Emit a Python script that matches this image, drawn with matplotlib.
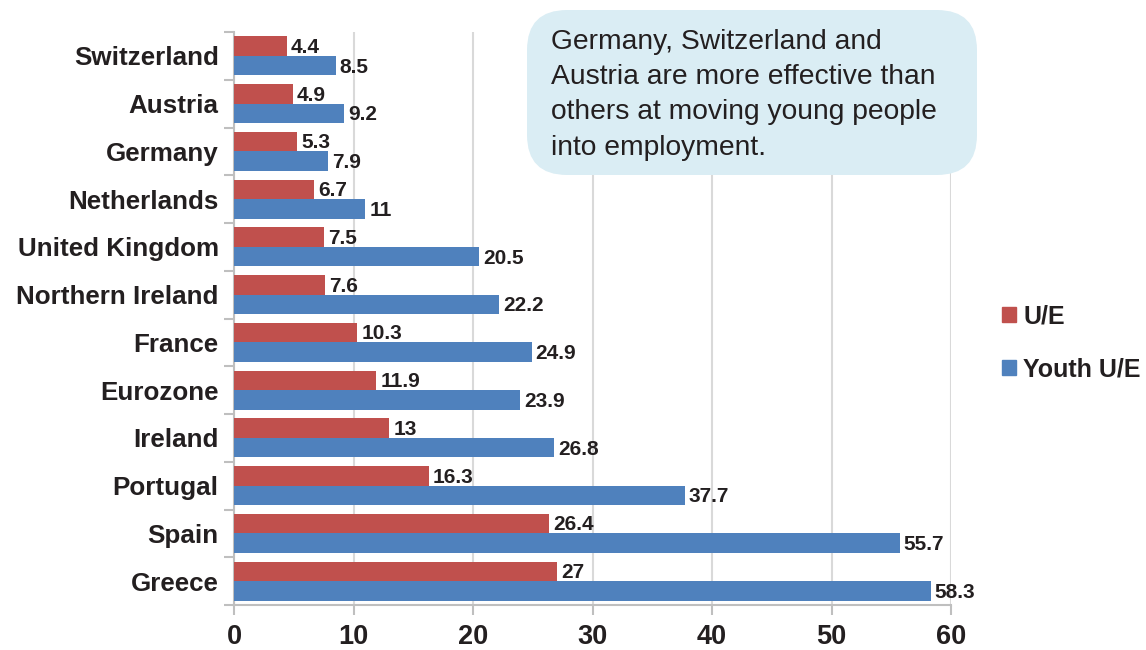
import matplotlib
matplotlib.use("Agg")
import matplotlib.pyplot as plt
from matplotlib.patches import FancyBboxPatch, Patch
import numpy as np

countries = ["Switzerland", "Austria", "Germany", "Netherlands", "United Kingdom",
             "Northern Ireland", "France", "Eurozone", "Ireland", "Portugal", "Spain", "Greece"]
ue = [4.4, 4.9, 5.3, 6.7, 7.5, 7.6, 10.3, 11.9, 13, 16.3, 26.4, 27]
youth_ue = [8.5, 9.2, 7.9, 11, 20.5, 22.2, 24.9, 23.9, 26.8, 37.7, 55.7, 58.3]
series_names = ["U/E", "Youth U/E"]
xticks = [0, 10, 20, 30, 40, 50, 60]
note = "Germany, Switzerland and\nAustria are more effective than\nothers at moving young people\ninto employment."

RED = "#C0504D"
BLUE = "#4F81BD"
TXT = "#231f20"
GRID = "#d9d9d9"
FONT = "Liberation Sans"

fig = plt.figure(figsize=(11.46, 6.5), dpi=100)
ax = fig.add_axes([234/1146, 45/650, (951-234)/1146, (605-32)/650])

y = np.arange(len(countries))
h = 0.41
ax.barh(y - h/2, ue, height=h, color=RED, zorder=3, label=series_names[0])
ax.barh(y + h/2, youth_ue, height=h, color=BLUE, zorder=3, label=series_names[1])

def fmt(v):
    return ("%g" % v)

for yi, v in zip(y, ue):
    ax.annotate(fmt(v), (v, yi - h/2), xytext=(3, -1), textcoords="offset points",
                va="center", ha="left", fontsize=15, fontweight="bold", color=TXT, family=FONT)
for yi, v in zip(y, youth_ue):
    ax.annotate(fmt(v), (v, yi + h/2), xytext=(3, -1), textcoords="offset points",
                va="center", ha="left", fontsize=15, fontweight="bold", color=TXT, family=FONT)

ax.set_xlim(0, 60)
ax.set_ylim(len(countries) - 0.5, -0.5)
ax.set_xticks(xticks)
ax.set_xticklabels([str(t) for t in xticks], fontsize=19.5, fontweight="bold", color=TXT, family=FONT)
ax.set_yticks(y)
ax.set_yticklabels(countries, fontsize=18.7, fontweight="bold", color=TXT, family=FONT)
ax.set_yticks(np.arange(len(countries) + 1) - 0.5, minor=True)
ax.tick_params(axis="y", which="major", length=0, pad=11)
ax.tick_params(axis="y", which="minor", length=7, color="#bfbfbf", width=1.5)
ax.tick_params(axis="x", which="major", length=7, color="#bfbfbf", width=1.5, pad=7)

ax.grid(axis="x", color=GRID, linewidth=1.5, zorder=0)
ax.set_axisbelow(True)
for s in ["top", "right"]:
    ax.spines[s].set_visible(False)
for s in ["left", "bottom"]:
    ax.spines[s].set_color("#bfbfbf")
    ax.spines[s].set_linewidth(1.5)

handles = [Patch(color=RED), Patch(color=BLUE)]
leg = fig.legend(handles, series_names, loc="center left", bbox_to_anchor=(1002/1146, (650-343)/650),
                 frameon=False, handlelength=0.55, handleheight=0.55, handletextpad=0.3,
                 labelspacing=1.15, borderpad=0, borderaxespad=0,
                 prop={"family": FONT, "weight": "bold", "size": 18})
for t in leg.get_texts():
    t.set_color(TXT)

box = FancyBboxPatch((527/1146, (650-175)/650), (977-527)/1146, (175-10)/650,
                     boxstyle="round,pad=0,rounding_size=0.035", transform=fig.transFigure,
                     facecolor="#daedf4", edgecolor="none", zorder=5, mutation_aspect=1146/650)
fig.patches.append(box)
fig.text(551/1146, (650-29)/650, note, ha="left", va="top", fontsize=20.3, color=TXT,
         family=FONT, linespacing=1.46, zorder=6)

fig.savefig("out.png", dpi=100)
